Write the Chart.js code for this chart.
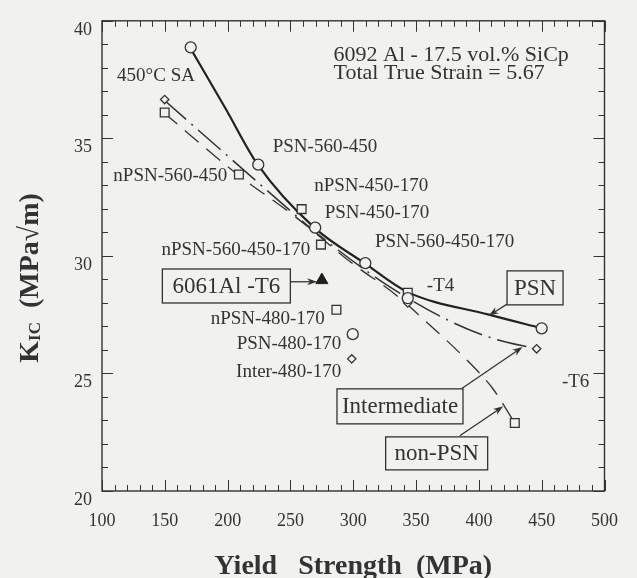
<!DOCTYPE html>
<html>
<head>
<meta charset="utf-8">
<script src="https://cdn.jsdelivr.net/npm/chart.js@4.4.1/dist/chart.umd.min.js"></script>
<style>
  html, body { margin: 0; padding: 0; background: #f1f1ef; }
</style>
</head>
<body>
<canvas id="chart" width="637" height="578"></canvas>
<script>
// fitted curves
const psnCurveX = [170, 198, 224, 269, 309, 343, 408, 450];
const psnCurveY = [38.87, 36.3, 33.88, 31.2, 29.69, 28.47, 27.5, 26.92];
const interCurveX = [149, 242, 269, 323, 376, 413, 446];
const interCurveY = [36.65, 32.29, 31.05, 28.9, 27.25, 26.46, 26.05];
const nonCurveX = [149, 208, 254, 300, 334, 357, 392, 411, 428.6];
const nonCurveY = [36.1, 33.46, 31.66, 29.65, 28.34, 27.25, 25.49, 24.36, 22.89];

// measured points
const psnX = [170.6, 224.4, 269.7, 309.6, 343.4, 299.6, 450];
const psnY = [38.87, 33.88, 31.2, 29.69, 28.2, 26.67, 26.92];
const npsnX = [149.9, 209, 258.9, 274.3, 286.6, 343.4, 428.6];
const npsnY = [36.1, 33.46, 31.99, 30.48, 27.71, 28.43, 22.89];
const interX = [149.9, 298.8, 343.4, 446];
const interY = [36.65, 25.62, 28.0, 26.05];
const t6X = [275];
const t6Y = [28.97];

const xTicks = [100, 150, 200, 250, 300, 350, 400, 450, 500];
const yTicks = [20, 25, 30, 35, 40];

const FONT = '"Liberation Serif", "Times New Roman", serif';
const INK = '#333333';
const BG = '#f1f1ef';

const pts = (xs, ys) => xs.map((x, i) => ({ x: x, y: ys[i] }));

// annotations, anchored in data units
const notes = [
  { text: '450°C SA', x: 143, y: 37.65, align: 'center' },
  { text: 'PSN-560-450', x: 235.9, y: 34.63, align: 'left' },
  { text: 'nPSN-560-450', x: 199.8, y: 33.38, align: 'right' },
  { text: 'nPSN-450-170', x: 268.9, y: 32.96, align: 'left' },
  { text: 'PSN-450-170', x: 277.3, y: 31.82, align: 'left' },
  { text: 'nPSN-560-450-170', x: 265.8, y: 30.23, align: 'right' },
  { text: 'PSN-560-450-170', x: 317.3, y: 30.6, align: 'left' },
  { text: 'nPSN-480-170', x: 277.3, y: 27.3, align: 'right' },
  { text: 'PSN-480-170', x: 290.4, y: 26.25, align: 'right' },
  { text: 'Inter-480-170', x: 290.4, y: 25.07, align: 'right' },
  { text: '-T4', x: 369.5, y: 28.72, align: 'center' },
  { text: '-T6', x: 477, y: 24.65, align: 'center' }
];
const boxes = [
  { text: '6061Al -T6', x: 199, y: 28.72, w: 128, h: 34 },
  { text: 'PSN', x: 444.7, y: 28.64, w: 56, h: 34 },
  { text: 'Intermediate', x: 337.2, y: 23.6, w: 126, h: 35 },
  { text: 'non-PSN', x: 366.4, y: 21.6, w: 102, h: 33 }
];
const arrows = [
  { x1: 249, y1: 28.9, x2: 271.2, y2: 28.9 },
  { x1: 424, y1: 28.0, x2: 407.9, y2: 27.46 },
  { x1: 386.4, y1: 24.36, x2: 434.7, y2: 26.12 },
  { x1: 384.8, y1: 22.35, x2: 419.4, y2: 23.6 }
];
const headerLines = ['6092 Al - 17.5 vol.% SiCp', 'Total True Strain = 5.67'];

const bgPlugin = {
  id: 'bg',
  beforeDraw(chart) {
    const ctx = chart.ctx;
    ctx.save();
    ctx.fillStyle = BG;
    ctx.fillRect(0, 0, chart.width, chart.height);
    ctx.restore();
  }
};

// frame with inward ticks on all four sides
const framePlugin = {
  id: 'frame',
  beforeDatasetsDraw(chart) {
    const { ctx, chartArea: a, scales: { x, y } } = chart;
    ctx.save();
    ctx.strokeStyle = INK;
    ctx.lineWidth = 1.4;
    ctx.strokeRect(a.left, a.top, a.right - a.left, a.bottom - a.top);
    ctx.lineWidth = 1;
    ctx.beginPath();
    for (let v = x.min; v <= x.max; v += 10) {
      const p = Math.round(x.getPixelForValue(v)) + 0.5;
      const len = v % 50 === 0 ? 11 : 6;
      ctx.moveTo(p, a.bottom); ctx.lineTo(p, a.bottom - len);
      ctx.moveTo(p, a.top); ctx.lineTo(p, a.top + len);
    }
    for (let v = y.min; v <= y.max; v += 1) {
      const p = Math.round(y.getPixelForValue(v)) + 0.5;
      const len = v % 5 === 0 ? 11 : 6;
      ctx.moveTo(a.left, p); ctx.lineTo(a.left + len, p);
      ctx.moveTo(a.right, p); ctx.lineTo(a.right - len, p);
    }
    ctx.stroke();
    ctx.restore();
  }
};

function arrow(ctx, x1, y1, x2, y2) {
  const ang = Math.atan2(y2 - y1, x2 - x1);
  ctx.beginPath();
  ctx.moveTo(x1, y1);
  ctx.lineTo(x2 - 6 * Math.cos(ang), y2 - 6 * Math.sin(ang));
  ctx.stroke();
  ctx.beginPath();
  ctx.moveTo(x2, y2);
  ctx.lineTo(x2 - 10 * Math.cos(ang) + 3.5 * Math.sin(ang), y2 - 10 * Math.sin(ang) - 3.5 * Math.cos(ang));
  ctx.lineTo(x2 - 7 * Math.cos(ang), y2 - 7 * Math.sin(ang));
  ctx.lineTo(x2 - 10 * Math.cos(ang) - 3.5 * Math.sin(ang), y2 - 10 * Math.sin(ang) + 3.5 * Math.cos(ang));
  ctx.closePath();
  ctx.fill();
}

const notesPlugin = {
  id: 'notes',
  afterDraw(chart) {
    const { ctx, scales: { x, y } } = chart;
    ctx.save();
    ctx.fillStyle = INK;
    ctx.strokeStyle = INK;

    ctx.font = '19px ' + FONT;
    ctx.textBaseline = 'middle';
    notes.forEach(n => {
      ctx.textAlign = n.align;
      ctx.fillText(n.text, x.getPixelForValue(n.x), y.getPixelForValue(n.y));
    });

    ctx.lineWidth = 1.3;
    arrows.forEach(r => arrow(ctx,
      x.getPixelForValue(r.x1), y.getPixelForValue(r.y1),
      x.getPixelForValue(r.x2), y.getPixelForValue(r.y2)));

    ctx.font = '23px ' + FONT;
    ctx.textAlign = 'center';
    boxes.forEach(b => {
      const cx = x.getPixelForValue(b.x), cy = y.getPixelForValue(b.y);
      ctx.fillStyle = BG;
      ctx.fillRect(cx - b.w / 2, cy - b.h / 2, b.w, b.h);
      ctx.strokeRect(cx - b.w / 2, cy - b.h / 2, b.w, b.h);
      ctx.fillStyle = INK;
      ctx.fillText(b.text, cx, cy + 1);
    });

    // header
    ctx.font = '22px ' + FONT;
    ctx.textAlign = 'left';
    ctx.textBaseline = 'alphabetic';
    const hx = x.getPixelForValue(184.3 + 100);
    ctx.fillText(headerLines[0], hx, y.getPixelForValue(38.28));
    ctx.fillText(headerLines[1], hx, y.getPixelForValue(37.53));

    // y axis title with subscript
    const a = chart.chartArea;
    ctx.translate(38, (a.top + a.bottom) / 2 + 22);
    ctx.rotate(-Math.PI / 2);
    const big = 'bold 28px ' + FONT, small = 'bold 17px ' + FONT;
    ctx.font = big; const wK = ctx.measureText('K').width;
    ctx.font = small; const wS = ctx.measureText('IC').width;
    ctx.font = big; const rest = '  (MPa\u221Am)'; const wR = ctx.measureText(rest).width;
    let sx = -(wK + wS + wR) / 2;
    ctx.fillText('K', sx, 0); sx += wK;
    ctx.font = small; ctx.fillText('IC', sx, 2); sx += wS;
    ctx.font = big; ctx.fillText(rest, sx, 0);
    ctx.restore();
  }
};

const markerBase = { showLine: false, borderColor: INK, backgroundColor: BG, borderWidth: 1.3, order: 0 };

new Chart(document.getElementById('chart'), {
  type: 'scatter',
  data: {
    datasets: [
      Object.assign({ label: 'PSN', data: pts(psnX, psnY), pointStyle: 'circle', pointRadius: 5.5 }, markerBase),
      Object.assign({ label: 'nPSN', data: pts(npsnX, npsnY), pointStyle: 'rect', pointRadius: 6.2 }, markerBase),
      Object.assign({ label: 'Inter', data: pts(interX, interY), pointStyle: 'rectRot', pointRadius: 4.2 }, markerBase),
      { label: '6061Al-T6', data: pts(t6X, t6Y), pointStyle: 'triangle', pointRadius: 7,
        backgroundColor: '#1e1e1e', borderColor: '#1e1e1e', borderWidth: 1, order: 0 },
      { label: 'PSN curve', data: pts(psnCurveX, psnCurveY), showLine: true, pointRadius: 0,
        borderColor: '#222', borderWidth: 2.2, cubicInterpolationMode: 'monotone', order: 1 },
      { label: 'Intermediate curve', data: pts(interCurveX, interCurveY), showLine: true, pointRadius: 0,
        borderColor: '#333', borderWidth: 1.5, borderDash: [30, 7, 2, 7], cubicInterpolationMode: 'monotone', order: 1 },
      { label: 'non-PSN curve', data: pts(nonCurveX, nonCurveY), showLine: true, pointRadius: 0,
        borderColor: '#333', borderWidth: 1.3, borderDash: [18, 10], cubicInterpolationMode: 'monotone', order: 1 }
    ]
  },
  options: {
    responsive: false,
    animation: false,
    layout: { padding: { top: 14, right: 14, left: 0, bottom: 0 } },
    plugins: { legend: { display: false }, tooltip: { enabled: false } },
    scales: {
      x: {
        type: 'linear', min: 100, max: 500,
        afterBuildTicks: s => { s.ticks = xTicks.map(v => ({ value: v })); },
        afterFit: s => { s.height = 87; },
        grid: { display: false, drawTicks: false },
        border: { display: false },
        ticks: { color: INK, padding: 19, font: { family: FONT, size: 18 } },
        title: { display: true, text: 'Yield   Strength  (MPa)', color: INK,
                 font: { family: FONT, size: 28, weight: 'bold', lineHeight: 0.8 }, padding: 0 }
      },
      y: {
        type: 'linear', min: 20, max: 40,
        afterBuildTicks: s => { s.ticks = yTicks.map(v => ({ value: v })); },
        afterFit: s => { s.width = 102; },
        grid: { display: false, drawTicks: false },
        border: { display: false },
        ticks: { color: INK, padding: 10, labelOffset: 9, font: { family: FONT, size: 18 } }
      }
    }
  },
  plugins: [bgPlugin, framePlugin, notesPlugin]
});
</script>
</body>
</html>
